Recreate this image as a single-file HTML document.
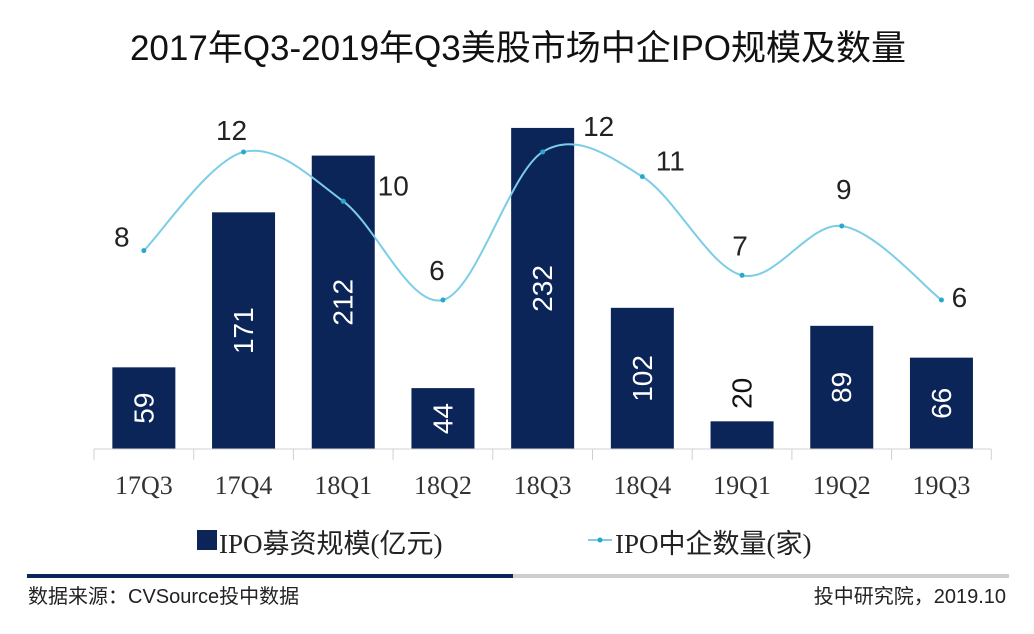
<!DOCTYPE html>
<html><head><meta charset="utf-8"><style>
body{margin:0;background:#fff;width:1034px;height:629px;overflow:hidden;font-family:"Liberation Sans","Noto Sans CJK SC",sans-serif}
</style></head><body>
<svg id="c" width="1034" height="629">
<text x="518" y="60" text-anchor="middle" font-size="35" fill="#111" font-family="Liberation Sans, Noto Sans CJK SC, sans-serif">2017年Q3-2019年Q3美股市场中企IPO规模及数量</text>
<g id="bars"></g><g id="line"></g><g id="axis"></g>
<g>
<rect x="197" y="530" width="20" height="20" fill="#0b2559"/>
<text x="219" y="553" font-size="27" fill="#222" font-family="Liberation Serif, Noto Sans CJK SC, sans-serif">IPO募资规模(亿元)</text>
<line x1="588" y1="540" x2="612" y2="540" stroke="#7ccde6" stroke-width="2"/>
<circle cx="600" cy="540" r="2.5" fill="#28a9cc"/>
<text x="615" y="553" font-size="27" fill="#222" font-family="Liberation Serif, Noto Sans CJK SC, sans-serif">IPO中企数量(家)</text>
</g>
<rect x="27" y="574" width="486" height="4" fill="#0b2559"/>
<rect x="513" y="574" width="496" height="4" fill="#cfcfcf"/>
<text x="28" y="603" font-size="20" fill="#222">数据来源：CVSource投中数据</text>
<text x="1006" y="603" font-size="20" fill="#222" text-anchor="end">投中研究院，2019.10</text>
</svg>
<script>
const categories=["17Q3","17Q4","18Q1","18Q2","18Q3","18Q4","19Q1","19Q2","19Q3"];
const amounts=[59,171,212,44,232,102,20,89,66];
const counts=[8,12,10,6,12,11,7,9,6];
const NS="http://www.w3.org/2000/svg";
const x0=94,cw=99.7,base=449;
const xC=i=>x0+cw*(i+0.5);
const yB=v=>base-v*1.384;
const yL=v=>448-v*24.67;
function mk(t,a,p){const e=document.createElementNS(NS,t);for(const k in a)e.setAttribute(k,a[k]);p.appendChild(e);return e;}
const gb=document.getElementById('bars'),gl=document.getElementById('line'),ga=document.getElementById('axis');
amounts.forEach((v,i)=>{
 const r=mk('rect',{x:xC(i)-31.5,y:yB(v),width:63,height:base-yB(v),fill:'#0b2559'},gb);
 
 
 const cx=xC(i);let cy,col;
 const h=base-yB(v);
 if(h>55){cy=yB(v)+h/2;col='#fff';}else{cy=yB(v)-28;col='#111';}
 const t=mk('text',{x:cx,y:cy,'font-size':28,fill:col,'text-anchor':'middle','dominant-baseline':'central',transform:`rotate(-90 ${cx} ${cy})`},gb);
 t.textContent=v;
 
 
});
mk('line',{x1:x0,y1:base,x2:x0+cw*9,y2:base,stroke:'#d0d0d0'},ga);
categories.forEach((c,i)=>{
 mk('line',{x1:x0+cw*i,y1:base,x2:x0+cw*i,y2:460,stroke:'#d0d0d0'},ga);
 const t=mk('text',{x:xC(i),y:494,'font-size':26,fill:'#333','text-anchor':'middle','font-family':'Liberation Serif, serif'},ga);
 t.textContent=c;
 
 
});
mk('line',{x1:x0+cw*9,y1:base,x2:x0+cw*9,y2:460,stroke:'#d0d0d0'},ga);
const pts=counts.map((v,i)=>[xC(i),yL(v)]);
let d=`M${pts[0][0]},${pts[0][1]}`;
for(let i=0;i<pts.length-1;i++){
 const p0=pts[Math.max(0,i-1)],p1=pts[i],p2=pts[i+1],p3=pts[Math.min(pts.length-1,i+2)];
 const k=1/6;
 d+=` C${p1[0]+(p2[0]-p0[0])*k},${p1[1]+(p2[1]-p0[1])*k} ${p2[0]-(p3[0]-p1[0])*k},${p2[1]-(p3[1]-p1[1])*k} ${p2[0]},${p2[1]}`;
}
const path=mk('path',{d:d,fill:'none',stroke:'#7ccde6','stroke-width':2},gl);


const off=[[-22,-4],[-12,-12],[50,-6],[-6,-20],[56,-16],[28,-6],[-2,-20],[2,-27],[18,7]];
counts.forEach((v,i)=>{
 const c=mk('circle',{cx:pts[i][0],cy:pts[i][1],r:2.5,fill:'#28a9cc'},gl);
 
 
 const t=mk('text',{x:pts[i][0]+off[i%off.length][0],y:pts[i][1]+off[i%off.length][1],'font-size':28,fill:'#222','text-anchor':'middle'},gl);
 t.textContent=v;
 
 
});
</script>
</body></html>
